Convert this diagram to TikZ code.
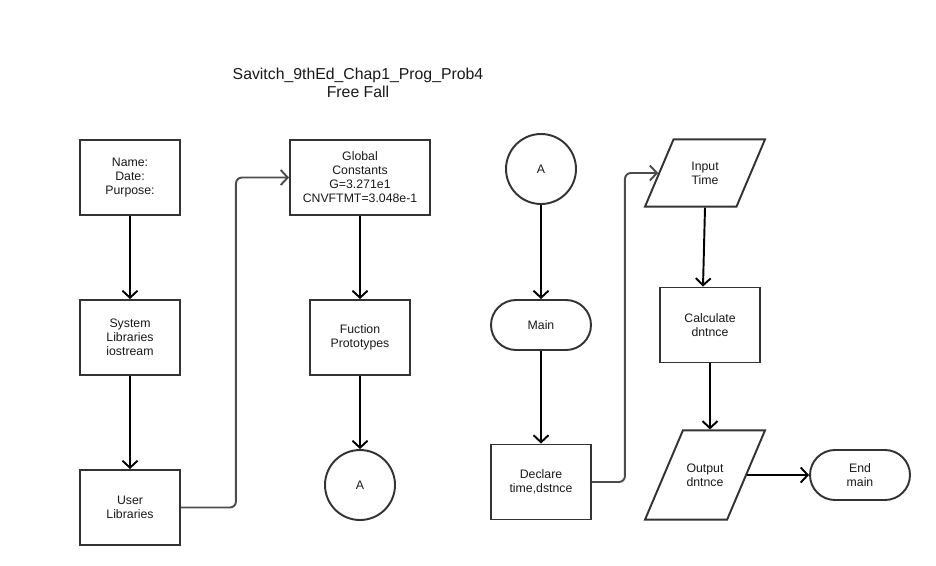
\documentclass[tikz,border=0pt]{standalone}
\usepackage{fontspec}
\setmainfont{Liberation Sans}
\usetikzlibrary{arrows.meta,shapes.geometric}
\tikzset{
	box/.style={draw=black!80, line width=1.1pt, minimum width=2cm, minimum height=1.5cm, align=center, inner sep=1pt, text=black!90, font=\fontsize{7}{8}\selectfont},
	term/.style={box, minimum height=1cm, rounded corners=0.5cm},
	io/.style={box, trapezium, trapezium left angle=67, trapezium right angle=113, trapezium stretches body, minimum width=2.4cm, minimum height=0pt},
	con/.style={box, circle, minimum size=1.4cm},
	flow/.style={line width=1.1pt, -{Straight Barb[length=1.4mm,width=3mm]}},
	elbow/.style={flow, draw=black!70, rounded corners=0.12cm}
}
\begin{document}
\begin{tikzpicture}[x=0.02cm, y=-0.02cm]
		%%%%% START %%%%%
		\useasboundingbox (0,0) rectangle (936,565);
		
		\node[align=center, text=black!90, font=\fontsize{9}{10.2}\selectfont] (title) at (358,83) {Savitch\_9thEd\_Chap1\_Prog\_Prob4\\Free Fall};
		
		\node[box] (name) at (130,177.5) {Name:\\Date:\\Purpose:};
		\node[box] (syslib) at (130,337.5) {System\\Libraries\\iostream};
		\node[box] (userlib) at (130,507.5) {User\\Libraries};
		
		\node[box, minimum width=2.8cm] (globals) at (360,177.5) {Global\\Constants\\G=3.271e1\\CNVFTMT=3.048e-1};
		\node[box] (protos) at (360,337.5) {Fuction\\Prototypes};
		\node[con] (conA) at (360,485) {A};
		
		\node[con] (conB) at (541,169) {A};
		\node[term] (main) at (541,325) {Main};
		\node[box] (declare) at (541,482) {Declare\\time,dstnce};
		
		\node[io, inner ysep=0.445cm] (input) at (705,173) {Input\\Time};
		\node[box] (calc) at (710,325) {Calculate\\dntnce};
		\node[io, inner ysep=0.665cm] (output) at (705,475) {Output\\dntnce};
		\node[term] (endmain) at (860,475) {End\\main};
		
		\draw[flow] (name) -- (syslib);
		\draw[flow] (syslib) -- (userlib);
		\draw[elbow] (userlib.east) -- ++(55,0) |- (globals.west);
		
		\draw[flow] (globals) -- (protos);
		\draw[flow] (protos) -- (conA);
		
		\draw[flow] (conB) -- (main);
		\draw[flow] (main) -- (declare);
		\draw[elbow] (declare.east) -- ++(33,0) |- (input.west);
		
		\draw[flow] (input.south) -- ([xshift=-0.14cm]calc.north);
		\draw[flow] (calc.south) -- (calc.south |- output.north);
		\draw[flow] (output) -- (endmain);
		
		%%%%% END %%%%%
\end{tikzpicture}
\end{document}
